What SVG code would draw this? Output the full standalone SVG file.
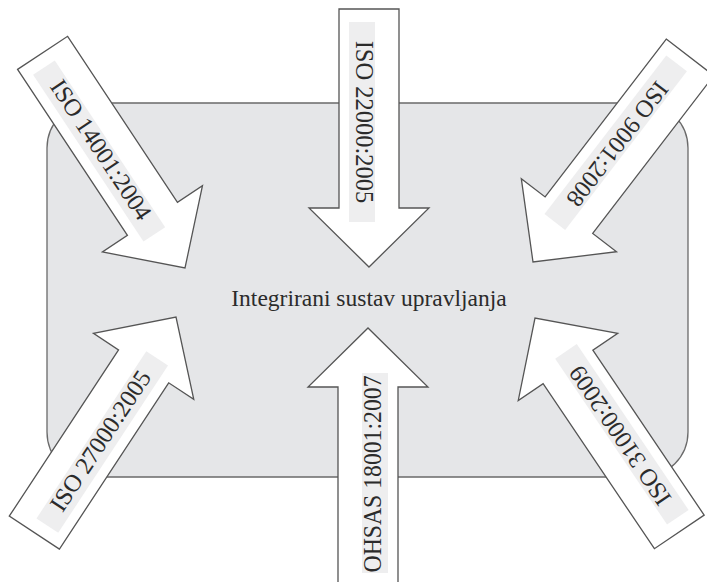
<svg xmlns="http://www.w3.org/2000/svg" xmlns:xlink="http://www.w3.org/1999/xlink" width="707" height="582" viewBox="0 0 707 582">
  <style>
    .panel { fill: #e5e6e8; stroke: #6a6a6a; stroke-width: 1.3; }
    .arrow { fill: #ffffff; stroke: #555555; stroke-width: 1.3; stroke-linejoin: miter; }
    .band { fill: #eeeeef; }
    .label { font-family: "Liberation Serif", "Times New Roman", serif; font-size: 24.5px; fill: #2b2b2b; }
    .title { font-family: "Liberation Serif", "Times New Roman", serif; font-size: 23.5px; fill: #2b2b2b; }
  </style>
  <defs>
    <!-- block arrow pointing down (+y), tip at the origin -->
    <polygon id="block-arrow" class="arrow" points="-30,-258 30,-258 30,-59 60,-59 0,0 -60,-59 -30,-59"/>
    <!-- light band behind the label, along the shaft -->
    <rect id="label-band" class="band" x="-20" y="-245" width="26" height="200"/>
  </defs>

  <!-- central system -->
  <g id="integrated-system">
    <rect class="panel" x="47" y="103" width="641" height="374" rx="45" ry="45"/>
    <text class="title" x="369" y="306" text-anchor="middle">Integrirani sustav upravljanja</text>
  </g>

  <!-- standards feeding into the system -->
  <g id="inputs">
    <g id="iso-22000" transform="translate(369,267)">
      <use xlink:href="#block-arrow"/>
      <use xlink:href="#label-band"/>
      <text class="label" transform="translate(-13,-145) rotate(90)" text-anchor="middle">ISO 22000:2005</text>
    </g>
    <g id="iso-14001" transform="translate(185,268) rotate(-33.5)">
      <use xlink:href="#block-arrow"/>
      <use xlink:href="#label-band"/>
      <text class="label" transform="translate(-13,-145) rotate(90)" text-anchor="middle">ISO 14001:2004</text>
    </g>
    <g id="iso-9001" transform="translate(533,262) rotate(37.5)">
      <use xlink:href="#block-arrow"/>
      <use xlink:href="#label-band"/>
      <text class="label" transform="translate(-13,-145) rotate(90)" text-anchor="middle">ISO 9001:2008</text>
    </g>
    <g id="iso-27000" transform="translate(176,317) rotate(-146.7)">
      <use xlink:href="#block-arrow"/>
      <use xlink:href="#label-band"/>
      <text class="label" transform="translate(-13,-145) rotate(90)" text-anchor="middle">ISO 27000:2005</text>
    </g>
    <g id="ohsas-18001" transform="translate(368,328) rotate(180)">
      <use xlink:href="#block-arrow"/>
      <use xlink:href="#label-band"/>
      <text class="label" transform="translate(-13,-146) rotate(90)" text-anchor="middle" textLength="197" lengthAdjust="spacingAndGlyphs">OHSAS 18001:2007</text>
    </g>
    <g id="iso-31000" transform="translate(535,318) rotate(146)">
      <use xlink:href="#block-arrow"/>
      <use xlink:href="#label-band"/>
      <text class="label" transform="translate(-13,-145) rotate(90)" text-anchor="middle">ISO 31000:2009</text>
    </g>
  </g>
</svg>
